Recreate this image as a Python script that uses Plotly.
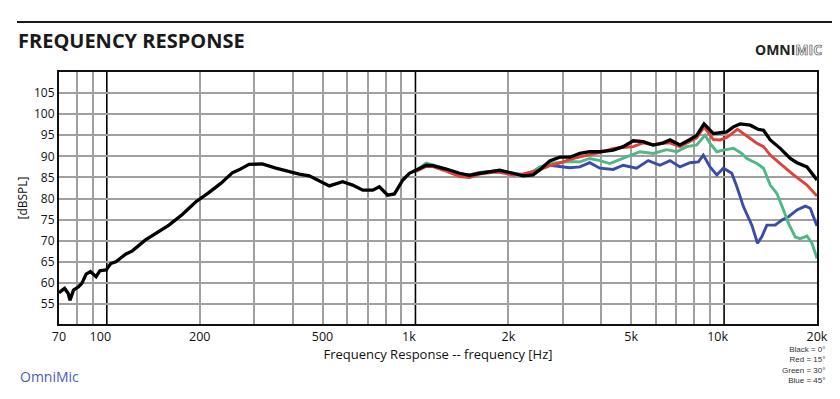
import plotly.graph_objects as go

# ---------------- data ----------------
BLACK_F = [70, 73, 75, 76, 78, 81, 83, 85.7, 88.5, 92.3, 95, 99.5, 103, 107, 115, 121, 133.5, 146, 159, 176,
           194, 214, 234, 255, 268, 289, 319, 353, 400, 420, 453, 488, 526, 581, 626, 675, 727, 764, 813, 855,
           910, 956, 1005, 1083, 1138, 1258, 1390, 1497, 1614, 1782, 1874, 2070, 2230, 2403, 2527, 2723, 2935,
           3162, 3408, 3672, 3957, 4372, 4711, 5076, 5470, 5895, 6352, 6678, 7196, 7755, 8153, 8612, 8892, 9233,
           9705, 10200, 10720, 11270, 12150, 12920, 13420, 14110, 15200, 16380, 17220, 18560, 20000]
BLACK_DB = [57.7, 58.7, 57.5, 55.9, 58.3, 59.1, 59.9, 62.1, 62.7, 61.5, 62.9, 63.1, 64.6, 65.0, 66.8, 67.6, 70.2,
            72.1, 73.7, 76.3, 79.2, 81.4, 83.6, 86.1, 86.8, 88.1, 88.2, 87.2, 86.1, 85.8, 85.4, 84.2, 83.0, 84.0,
            83.2, 82.0, 82.0, 82.8, 80.8, 81.1, 84.4, 86.0, 86.8, 87.9, 87.8, 87.0, 86.0, 85.5, 86.0, 86.4, 86.7,
            86.0, 85.4, 85.6, 86.8, 88.9, 89.8, 89.8, 90.7, 91.1, 91.1, 91.5, 92.3, 93.7, 93.5, 92.7, 93.2, 93.9,
            92.7, 94.0, 95.0, 97.7, 96.6, 95.4, 95.6, 95.8, 97.0, 97.7, 97.4, 96.4, 96.2, 93.9, 91.9, 89.5, 88.5,
            87.5, 84.4]

RED_F = [1005, 1083, 1138, 1258, 1390, 1497, 1614, 1782, 1874, 2070, 2230, 2403, 2527, 2723, 2935, 3162, 3408,
         3672, 3957, 4372, 4711, 5076, 5470, 5895, 6352, 6678, 7196, 7755, 8153, 8612, 8892, 9233, 9705, 10200,
         11050, 11850, 12770, 13420, 14110, 15200, 16790, 18560, 20000]
RED_DB = [86.5, 87.6, 87.6, 86.5, 85.2, 85.0, 85.8, 86.2, 86.2, 85.6, 85.8, 86.3, 86.8, 87.8, 88.4, 89.3, 89.9,
          90.4, 90.9, 91.9, 92.1, 92.3, 93.2, 92.7, 93.1, 93.2, 92.3, 93.6, 94.4, 97.0, 95.5, 94.0, 93.9, 94.5,
          96.4, 94.7, 93.1, 92.3, 90.3, 88.3, 85.6, 83.2, 80.6]

GREEN_F = [1005, 1083, 1138, 1258, 1390, 1497, 1614, 1782, 1874, 2070, 2230, 2403, 2527, 2723, 2935, 3162, 3408,
           3672, 3957, 4265, 4831, 5338, 5895, 6516, 7022, 7568, 8153, 8674, 9006, 9469, 9948, 10720, 11410, 11850,
           12770, 13420, 14110, 14830, 15580, 16170, 17000, 17650, 18560, 19270, 20000]
GREEN_DB = [86.6, 88.4, 88.0, 87.0, 85.8, 85.5, 86.0, 86.5, 86.6, 86.0, 85.6, 86.3, 87.5, 88.3, 88.5, 88.8, 88.7,
            89.5, 89.0, 88.3, 89.9, 91.1, 90.7, 91.6, 91.1, 92.3, 92.7, 95.0, 93.1, 91.1, 91.5, 91.9, 90.7, 89.5,
            88.3, 87.2, 83.2, 81.2, 77.3, 74.1, 70.9, 70.5, 71.1, 69.4, 65.8]

BLUE_F = [1005, 1083, 1138, 1258, 1390, 1497, 1614, 1782, 1874, 2070, 2230, 2403, 2527, 2723, 3001, 3162, 3408,
          3672, 3957, 4372, 4711, 5206, 5679, 6197, 6678, 7196, 7755, 8253, 8565, 9006, 9469, 9948, 10590, 11000,
          11550, 12300, 12830, 13260, 13760, 14640, 15390, 16170, 17220, 18320, 19020, 20000]
BLUE_DB = [86.5, 87.8, 87.8, 86.8, 85.7, 85.6, 86.2, 86.5, 86.5, 85.8, 85.8, 86.4, 87.4, 87.9, 87.5, 87.3, 87.5,
           88.5, 87.2, 86.9, 87.9, 87.2, 89.0, 87.9, 89.0, 87.5, 88.5, 88.7, 90.3, 87.5, 85.6, 87.2, 86.0, 82.8,
           78.1, 73.7, 69.4, 71.0, 73.7, 73.7, 74.9, 75.7, 77.3, 78.2, 77.7, 73.5]

X_TICKS = [70, 100, 200, 500, 1000, 2000, 5000, 10000, 20000]
X_TICK_TEXT = ["70", "100", "200", "500", "1k", "2k", "5k", "10k", "20k"]
DECADE_TICKS = [100, 1000, 10000]
X_GRID = [80, 90, 200, 300, 400, 500, 600, 700, 800, 900,
          2000, 3000, 4000, 5000, 6000, 7000, 8000, 9000]
Y_TICKS = [55, 60, 65, 70, 75, 80, 85, 90, 95, 100, 105]
LEGEND_LINES = ["Black = 0°", "Red = 15°", "Green = 30°", "Blue = 45°"]

# ---------------- layout helpers (page coordinates; page body has an 8px margin) ----------------
OFF = 8
PAGE_W, PAGE_H = 840, 399
W, H = PAGE_W - OFF, PAGE_H - OFF
PLOT_L, PLOT_R, PLOT_T, PLOT_B = 59, 817, 72, 324          # plot box on the page
ML, MT = PLOT_L - OFF, PLOT_T - OFF
MR, MB = W - (PLOT_R - OFF), H - (PLOT_B - OFF)
PW, PH = W - ML - MR, H - MT - MB


def px(x):
    return (x - OFF - ML) / PW


def py(y):
    return (H - MB - (y - OFF)) / PH


FONT = "Open Sans"
NB = "\u00a0"

fig = go.Figure()
series = [
    ("Blue = 45°", BLUE_F, BLUE_DB, "#3a4da6", 2.9),
    ("Green = 30°", GREEN_F, GREEN_DB, "#4fb886", 2.9),
    ("Red = 15°", RED_F, RED_DB, "#e0423a", 2.9),
    ("Black = 0°", BLACK_F, BLACK_DB, "#000000", 3.3),
]
for name, f, d, c, w in series:
    fig.add_trace(go.Scatter(x=f, y=d, mode="lines", name=name,
                             line=dict(color=c, width=w), hoverinfo="x+y+name"))

# decade lines in black
for f in DECADE_TICKS:
    fig.add_shape(type="line", xref="x", yref="paper", x0=f, x1=f, y0=0, y1=1,
                  line=dict(color="#000000", width=1.6), layer="below")

# rule above the title
fig.add_shape(type="line", xref="paper", yref="paper", x0=px(17), x1=px(845), y0=py(22), y1=py(22),
              line=dict(color="#1a1a1a", width=2))

tick_text = [t + (NB * 4 if v in DECADE_TICKS else "") for v, t in zip(X_TICKS, X_TICK_TEXT)]

fig.update_layout(
    width=W, height=H,
    margin=dict(l=ML, r=MR, t=MT, b=MB, autoexpand=False),
    paper_bgcolor="white", plot_bgcolor="white",
    showlegend=False,
    title=dict(text="<b>FREQUENCY RESPONSE</b>", x=(18 - OFF) / W, xanchor="left", xref="container",
               y=1 - (41 - OFF) / H, yanchor="middle", yref="container",
               font=dict(family=FONT, size=20, color="#1a1a1a")),
    xaxis=dict(type="log", range=[1.8451, 4.30103], tickmode="array", tickvals=X_TICKS, ticktext=tick_text,
               showgrid=False, zeroline=False, showline=True, mirror=True, linecolor="#111", linewidth=2,
               ticks="", tickfont=dict(family=FONT, size=12.5, color="#111"),
               minor=dict(tickmode="array", tickvals=X_GRID, showgrid=True, gridcolor="#a0a0a0",
                          gridwidth=1.6, ticks=""),
               title=dict(text="Frequency Response -- frequency [Hz]", standoff=0,
                          font=dict(family=FONT, size=13, color="#111"))),
    yaxis=dict(range=[50.27, 110.0], tickmode="array", tickvals=Y_TICKS,
               showgrid=True, gridcolor="#a0a0a0", gridwidth=1.6, zeroline=False,
               showline=True, mirror=True, linecolor="#111", linewidth=2, ticks="",
               tickfont=dict(family=FONT, size=12, color="#111"),
               title=dict(text="[dBSPL]", standoff=4, font=dict(family=FONT, size=12, color="#111"))),
)

# OmniMic logo (top right)
fig.add_annotation(xref="paper", yref="paper", x=px(824), y=py(49), xanchor="right", yanchor="middle",
                   showarrow=False,
                   text="<b>OMNI</b><span style='fill:#ffffff;stroke:#555555;stroke-width:0.7px'><b>MIC</b></span>",
                   font=dict(family=FONT, size=14, color="#222222"))

# OmniMic caption (bottom left)
fig.add_annotation(xref="paper", yref="paper", x=px(18), y=py(376), xanchor="left", yanchor="middle",
                   showarrow=False, text="OmniMic", font=dict(family=FONT, size=14, color="#4a5db8"))

# angle key (bottom right)
fig.add_annotation(xref="paper", yref="paper", x=px(827), y=py(343), xanchor="right", yanchor="top",
                   showarrow=False, align="right", text="<br>".join(LEGEND_LINES),
                   font=dict(family="Liberation Sans", size=8, color="#333333"))

fig.write_html("out.html")
